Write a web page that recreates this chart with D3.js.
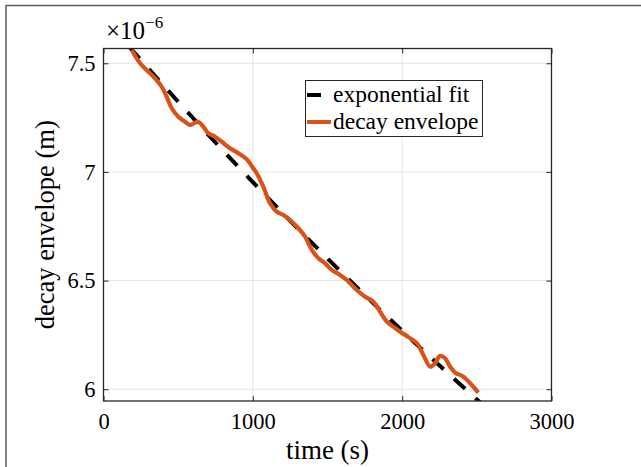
<!DOCTYPE html>
<html>
<head>
<meta charset="utf-8">
<script src="https://cdn.jsdelivr.net/npm/d3@7"></script>
<style>
  body { margin: 0; background: #fff; }
  svg { display: block; }
  text { font-family: "Liberation Serif", "DejaVu Serif", serif; fill: #000; }
</style>
</head>
<body>
<svg id="chart" width="641" height="467"></svg>
<script>
// envelope samples (time in s, value in units of 1e-6 m)
var envTime = [189, 245, 289, 345, 390, 423, 457, 501, 546, 579, 613, 635, 669, 702, 747, 792, 847, 903, 959, 1003,
    1026, 1070, 1115, 1160, 1204, 1249, 1305, 1350, 1395, 1439, 1484, 1529, 1584, 1629, 1651, 1696, 1752, 1807, 1852, 1897,
    1941, 1986, 2042, 2098, 2142, 2187, 2220, 2254, 2287, 2321, 2354, 2410, 2455, 2510];
var envValue = [7.561, 7.500, 7.469, 7.431, 7.392, 7.346, 7.293, 7.254, 7.231, 7.216, 7.227, 7.230, 7.208, 7.178, 7.162, 7.139, 7.109, 7.086, 7.058, 7.017,
    6.994, 6.932, 6.856, 6.817, 6.802, 6.779, 6.741, 6.702, 6.641, 6.603, 6.580, 6.549, 6.526, 6.503, 6.488, 6.457, 6.426, 6.403, 6.357, 6.311,
    6.288, 6.265, 6.240, 6.212, 6.158, 6.104, 6.120, 6.154, 6.143, 6.104, 6.077, 6.058, 6.028, 5.985];

// exponential fit, read at a few times
var fitTime = [175, 500, 1000, 1500, 2000, 2530];
var fitValue = [7.574, 7.323, 6.953, 6.602, 6.269, 5.935];

var xTicks = [0, 1000, 2000, 3000];
var yTicks = [6, 6.5, 7, 7.5];
var legendLabels = ['exponential fit', 'decay envelope'];

(function () {
    var svg = d3.select('#chart');
    var pLeft = 103.5, pRight = 551.5, pTop = 48.5, pBottom = 401;

    var x = d3.scaleLinear().domain([0, 3000]).range([pLeft, pRight]);
    var y = d3.scaleLinear().domain([5.946, 7.568]).range([pBottom, pTop]);

    // outer frame (screenshot edge)
    svg.append('path')
        .attr('d', 'M6,467 L6,5.5 L641,5.5')
        .attr('fill', 'none')
        .attr('stroke', '#5a5a5a')
        .attr('stroke-width', 1.5);

    svg.append('defs').append('clipPath').attr('id', 'plotclip')
        .append('rect')
        .attr('x', pLeft).attr('y', pTop)
        .attr('width', pRight - pLeft).attr('height', pBottom - pTop);

    // grid
    var grid = svg.append('g');
    grid.selectAll('.gx').data(xTicks).enter().append('line')
        .attr('x1', function (d) { return x(d); }).attr('x2', function (d) { return x(d); })
        .attr('y1', pTop).attr('y2', pBottom)
        .attr('stroke', '#e3e3e3').attr('stroke-width', 1);
    grid.selectAll('.gy').data(yTicks).enter().append('line')
        .attr('x1', pLeft).attr('x2', pRight)
        .attr('y1', function (d) { return y(d); }).attr('y2', function (d) { return y(d); })
        .attr('stroke', '#e3e3e3').attr('stroke-width', 1);

    // lines
    var plot = svg.append('g').attr('clip-path', 'url(#plotclip)');

    var fitLine = d3.line()
        .x(function (d) { return x(d[0]); })
        .y(function (d) { return y(d[1]); })
        .curve(d3.curveMonotoneX);

    plot.append('path')
        .datum(d3.zip(fitTime, fitValue))
        .attr('d', fitLine)
        .attr('fill', 'none')
        .attr('stroke', '#000')
        .attr('stroke-width', 4)
        .attr('stroke-dasharray', '15,14');

    var envLine = d3.line()
        .x(function (d) { return x(d[0]); })
        .y(function (d) { return y(d[1]); })
        .curve(d3.curveCatmullRom.alpha(0.5));

    plot.append('path')
        .datum(d3.zip(envTime, envValue))
        .attr('d', envLine)
        .attr('fill', 'none')
        .attr('stroke', '#D95319')
        .attr('stroke-width', 4.2)
        .attr('stroke-linejoin', 'round');

    // axes (box with inward ticks on all sides)
    var axColor = '#262626';
    var xb = d3.axisBottom(x).tickValues(xTicks).tickSizeInner(-5).tickSizeOuter(0).tickPadding(12).tickFormat(d3.format('d'));
    var xt = d3.axisTop(x).tickValues(xTicks).tickSizeInner(-5).tickSizeOuter(0).tickFormat('');
    var yl = d3.axisLeft(y).tickValues(yTicks).tickSizeInner(-5).tickSizeOuter(0).tickPadding(8).tickFormat(d3.format('~g'));
    var yr = d3.axisRight(y).tickValues(yTicks).tickSizeInner(-5).tickSizeOuter(0).tickFormat('');

    function styleAxis(g) {
        g.select('.domain').remove();
        g.selectAll('line').attr('stroke', axColor).attr('stroke-width', 1);
        g.selectAll('text').attr('font-family', '"Liberation Serif", serif').attr('font-size', 22.5).attr('fill', '#000');
    }

    svg.append('g').attr('transform', 'translate(0,' + pBottom + ')').call(xb).call(styleAxis);
    svg.append('g').attr('transform', 'translate(0,' + pTop + ')').call(xt).call(styleAxis);
    svg.append('g').attr('transform', 'translate(' + pLeft + ',0)').call(yl).call(styleAxis);
    svg.append('g').attr('transform', 'translate(' + pRight + ',0)').call(yr).call(styleAxis);

    svg.append('rect')
        .attr('x', pLeft).attr('y', pTop)
        .attr('width', pRight - pLeft).attr('height', pBottom - pTop)
        .attr('fill', 'none').attr('stroke', axColor).attr('stroke-width', 1.3);

    // exponent
    var ex = svg.append('text').attr('x', 106).attr('y', 39).attr('font-size', 25);
    ex.append('tspan').text('×10');
    ex.append('tspan').attr('dy', -11).attr('font-size', 17).text('−6');

    // axis labels
    svg.append('text')
        .attr('x', (pLeft + pRight) / 2).attr('y', 459)
        .attr('text-anchor', 'middle').attr('font-size', 27)
        .text('time (s)');

    svg.append('text')
        .attr('transform', 'translate(54,' + ((pTop + pBottom) / 2) + ') rotate(-90)')
        .attr('text-anchor', 'middle').attr('font-size', 26.5)
        .text('decay envelope (m)');

    // legend
    var lg = svg.append('g');
    lg.append('rect')
        .attr('x', 305.5).attr('y', 80.5).attr('width', 177).attr('height', 56)
        .attr('fill', '#fff').attr('stroke', axColor).attr('stroke-width', 1);

    var legendStyles = [
        { color: '#000', dash: '14,100' },
        { color: '#D95319', dash: null }
    ];
    legendLabels.forEach(function (lab, i) {
        var ly = 95 + i * 27;
        var ln = lg.append('line')
            .attr('x1', 307).attr('x2', 331)
            .attr('y1', ly).attr('y2', ly)
            .attr('stroke', legendStyles[i].color).attr('stroke-width', 4);
        if (legendStyles[i].dash) ln.attr('stroke-dasharray', legendStyles[i].dash);
        lg.append('text')
            .attr('x', 333).attr('y', ly + 7)
            .attr('font-size', 23.5)
            .text(lab);
    });
})();
</script>
</body>
</html>
